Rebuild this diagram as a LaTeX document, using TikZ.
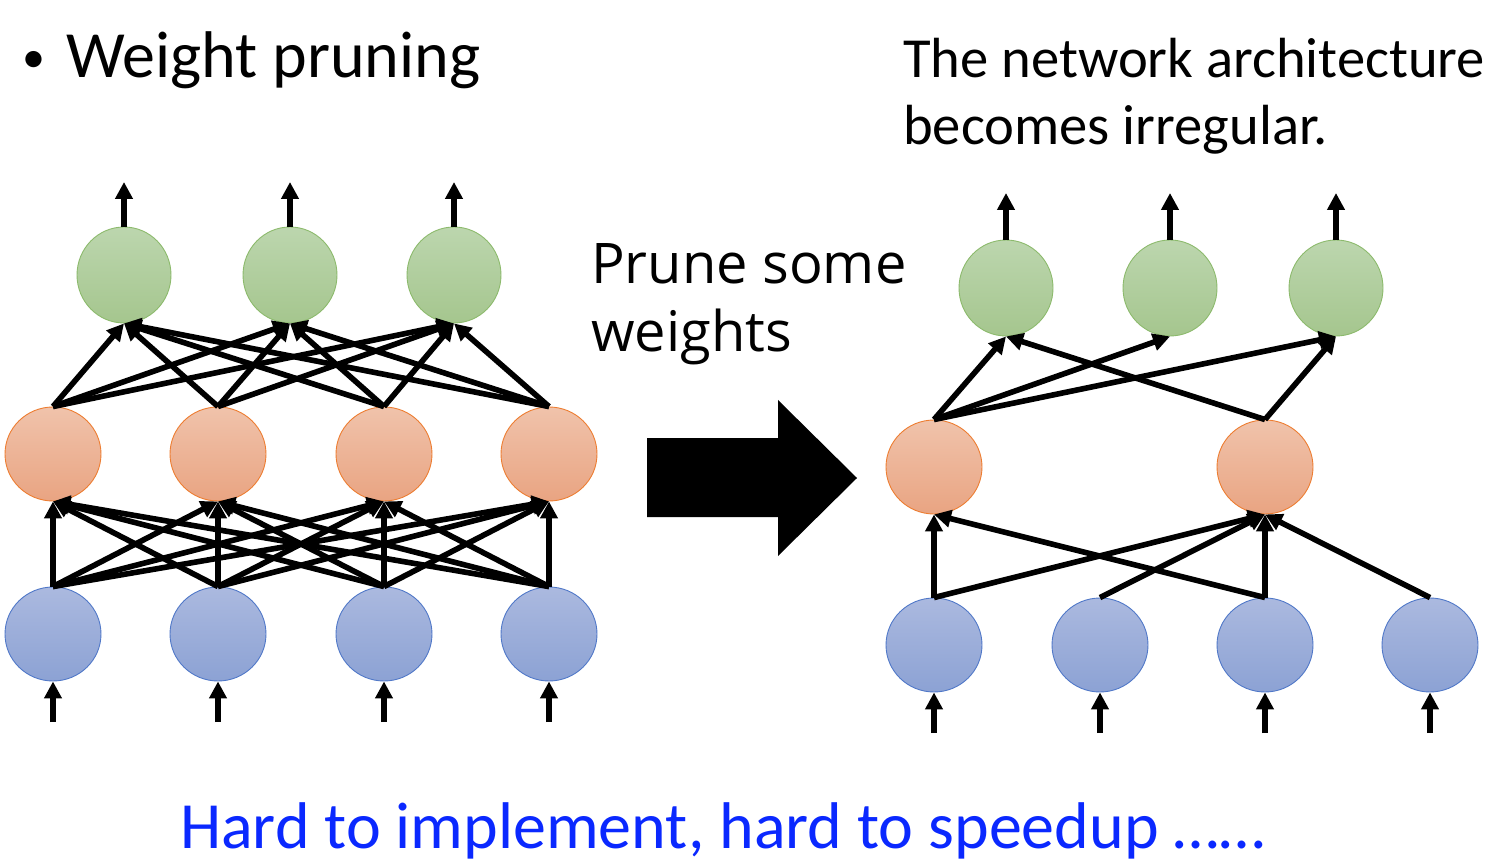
\documentclass[tikz,border=0pt]{standalone}
\usepackage{fontspec}
\setmainfont{Carlito}
\newfontfamily\segfont{Open Sans}
\usetikzlibrary{shapes.geometric,arrows.meta}
\definecolor{gtop}{RGB}{188,214,174}
\definecolor{gbot}{RGB}{165,198,142}
\definecolor{gline}{RGB}{140,186,108}
\definecolor{otop}{RGB}{240,195,171}
\definecolor{obot}{RGB}{233,164,130}
\definecolor{oline}{RGB}{237,125,49}
\definecolor{btop}{RGB}{171,185,223}
\definecolor{bbot}{RGB}{140,162,212}
\definecolor{bline}{RGB}{80,120,200}
\definecolor{hardblue}{RGB}{10,40,255}
\begin{document}
\begin{tikzpicture}[x=1pt,y=-1pt,
  neuron/.style={ellipse, inner sep=0pt, line width=0.9pt},
  gneuron/.style={neuron, minimum width=94pt, minimum height=96pt, draw=gline, top color=gtop, bottom color=gbot},
  oneuron/.style={neuron, minimum width=96pt, minimum height=94pt, draw=oline, top color=otop, bottom color=obot},
  bneuron/.style={neuron, minimum width=96pt, minimum height=94pt, draw=bline, top color=btop, bottom color=bbot},
  conn/.style={line width=5.6pt, -{Triangle[length=17pt,width=17pt]}},
  bigtext/.style={anchor=base west, inner sep=0pt, align=left}
]
\useasboundingbox (0,0) rectangle (1510,866);

% ---------- left network ----------
\foreach \n/\x in {1/124,2/290,3/454}{
  \node[gneuron] (g\n) at (\x,275) {};
  \coordinate (gout\n) at (\x,182);
}
\foreach \n/\x in {1/53,2/218,3/384,4/549}{
  \node[oneuron] (o\n) at (\x,454) {};
  \node[bneuron] (b\n) at (\x,634) {};
  \coordinate (bin\n) at (\x,722);
}
\foreach \i in {1,...,4}{
  \foreach \j in {1,2,3}{
    \draw[conn] (o\i.north) -- (g\j.south);
  }
  \foreach \j in {1,...,4}{
    \draw[conn] (b\i.north) -- (o\j.south);
  }
  \draw[conn] (bin\i) -- (b\i.south);
}
\foreach \j in {1,2,3}{
  \draw[conn] (g\j.north) -- (gout\j);
}

% ---------- right network ----------
\foreach \n/\x in {1/1006,2/1170,3/1336}{
  \node[gneuron] (G\n) at (\x,288) {};
  \coordinate (Gout\n) at (\x,193);
}
\node[oneuron] (O1) at (934,467) {};
\node[oneuron] (O2) at (1265,467) {};
\foreach \n/\x in {1/934,2/1100,3/1265,4/1430}{
  \node[bneuron] (B\n) at (\x,645) {};
  \coordinate (Bin\n) at (\x,733);
}
\draw[conn] (O1.north) -- (G1.south);
\draw[conn] (O1.north) -- (G2.south);
\draw[conn] (O1.north) -- (G3.south);
\draw[conn] (O2.north) -- (G1.south);
\draw[conn] (O2.north) -- (G3.south);
\draw[conn] (B1.north) -- (O1.south);
\draw[conn] (B1.north) -- (O2.south);
\draw[conn] (B2.north) -- (O2.south);
\draw[conn] (B3.north) -- (O1.south);
\draw[conn] (B3.north) -- (O2.south);
\draw[conn] (B4.north) -- (O2.south);
\foreach \j in {1,2,3}{
  \draw[conn] (G\j.north) -- (Gout\j);
}
\foreach \j in {1,...,4}{
  \draw[conn] (Bin\j) -- (B\j.south);
}

% ---------- big arrow ----------
\fill[black] (647,438) -- (778,438) -- (778,400) -- (857,478) -- (778,556) -- (778,517) -- (647,517) -- cycle;

% ---------- texts ----------
\node[bigtext, font=\fontsize{66}{80}\selectfont] (title) at (22,78) {\makebox[44pt][l]{\raisebox{5pt}{\fontsize{46}{46}\selectfont •}}Weight pruning};
\node[bigtext, font=\fontsize{56.6}{67}\selectfont] (irreg) at (903,145) {The network architecture\\becomes irregular.};
\node[bigtext, font=\segfont\fontsize{56}{68}\selectfont] (prune) at (591,352) {Prune some\\weights};
\node[bigtext, font=\fontsize{66}{80}\selectfont, text=hardblue] (hard) at (180,848) {Hard to implement, hard to speedup ……};
\end{tikzpicture}
\end{document}
